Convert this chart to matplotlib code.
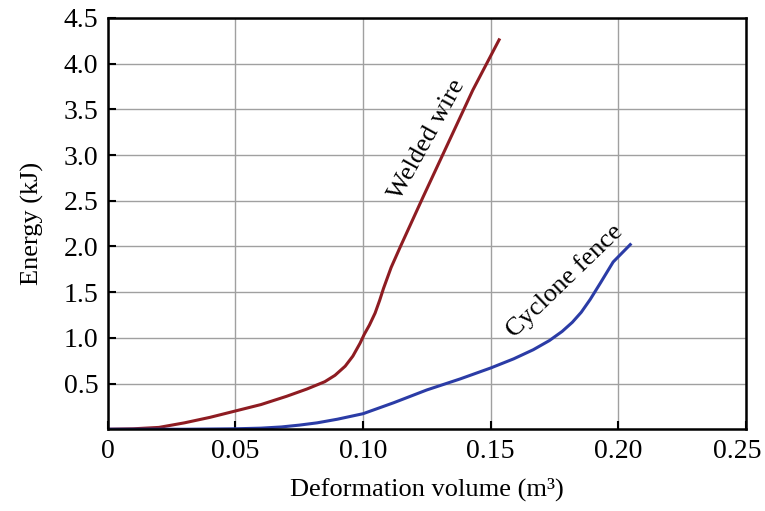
import matplotlib
matplotlib.use("Agg")
import matplotlib.pyplot as plt
from matplotlib.transforms import ScaledTranslation

# Welded wire curve
welded_x = [0.0, 0.01, 0.02, 0.03, 0.04, 0.05, 0.06, 0.07, 0.078, 0.085, 0.089, 0.093,
            0.096, 0.0988, 0.1005, 0.1025, 0.1047, 0.1065, 0.108, 0.111, 0.1145,
            0.1235, 0.134, 0.143, 0.1533]
welded_y = [0.0, 0.005, 0.02, 0.07, 0.13, 0.20, 0.27, 0.36, 0.44, 0.52, 0.59, 0.69,
            0.80, 0.94, 1.04, 1.14, 1.27, 1.41, 1.54, 1.77, 1.99,
            2.54, 3.17, 3.71, 4.26]

# Cyclone fence curve
cyclone_x = [0.0, 0.03, 0.05, 0.06, 0.068, 0.075, 0.082, 0.09, 0.10, 0.112, 0.125,
             0.138, 0.15, 0.159, 0.1667, 0.173, 0.178, 0.182, 0.1855, 0.189,
             0.193, 0.198, 0.2047]
cyclone_y = [0.0, 0.0, 0.005, 0.012, 0.025, 0.045, 0.07, 0.11, 0.17, 0.29, 0.43,
             0.55, 0.67, 0.77, 0.87, 0.97, 1.07, 1.17, 1.28, 1.42,
             1.60, 1.83, 2.02]

x_ticks = [0, 0.05, 0.10, 0.15, 0.20, 0.25]
x_labels = ["0", "0.05", "0.10", "0.15", "0.20", "0.25"]
y_ticks = [0.5, 1.0, 1.5, 2.0, 2.5, 3.0, 3.5, 4.0, 4.5]
y_labels = ["0.5", "1.0", "1.5", "2.0", "2.5", "3.0", "3.5", "4.0", "4.5"]

plt.rcParams["font.family"] = ["Liberation Serif", "DejaVu Serif"]

fig = plt.figure(figsize=(7.65, 5.11), dpi=100)
ax = fig.add_axes([0.141, 0.160, 0.834, 0.805])

ax.plot(welded_x, welded_y, color="#8e1c22", lw=2.2)
ax.plot(cyclone_x, cyclone_y, color="#2b3ca6", lw=2.2)

ax.set_xlim(0, 0.25)
ax.set_ylim(0, 4.5)
ax.set_xticks(x_ticks)
ax.set_xticklabels(x_labels)
ax.set_yticks(y_ticks)
ax.set_yticklabels(y_labels)
ax.tick_params(direction="in", length=6, width=1.5, labelsize=20, pad=7)
ax.grid(True, color="#a0a0a0", lw=1.0)
for s in ax.spines.values():
    s.set_linewidth(1.8)

# last x label sits a bit left so it is not cut at the edge
lab = ax.get_xticklabels()[-1]
lab.set_transform(lab.get_transform() + ScaledTranslation(-9 / 100, 0, fig.dpi_scale_trans))

ax.text(0.125, 3.17, "Welded wire", rotation=61, fontsize=19,
        ha="center", va="center")
ax.text(0.179, 1.62, "Cyclone fence", rotation=44, fontsize=19,
        ha="center", va="center")

ax.set_xlabel("Deformation volume (m³)", fontsize=19, labelpad=10)
ax.set_ylabel("Energy (kJ)", fontsize=19, labelpad=14)

plt.savefig("out.png", dpi=100)
